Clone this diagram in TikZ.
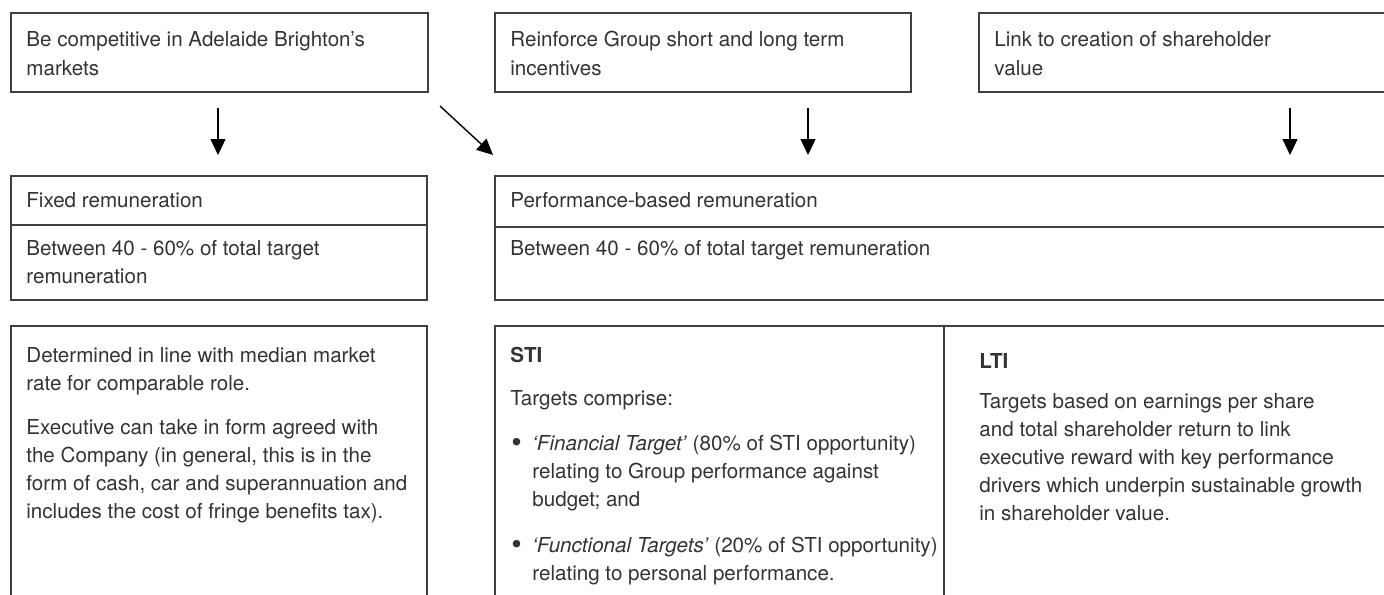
\documentclass[tikz,border=0pt]{standalone}
\usepackage{fontspec}
\setmainfont{TeX Gyre Heros}
\usetikzlibrary{arrows.meta}
\definecolor{ln}{HTML}{404040}
\definecolor{tx}{HTML}{333333}
\begin{document}
\begin{tikzpicture}[x=0.5pt,y=-0.5pt,
  box/.style={draw=ln, line width=0.65pt, inner sep=0pt, outer sep=0pt, anchor=north west},
  divider/.style={draw=ln, line width=0.65pt},
  txt/.style={anchor=base west, inner sep=0pt, text=tx, font=\fontsize{10.3}{14}\selectfont, align=left},
  hd/.style={txt, font=\fontsize{10.3}{14}\selectfont\bfseries},
  bul/.style={txt, font=\fontsize{15}{14}\selectfont},
  arr/.style={draw=black, line width=0.7pt, -{Triangle[length=8pt,width=7.5pt]}}]
\useasboundingbox (0,0) rectangle (1384,594);
\clip (0,0) rectangle (1384,594);
% top row
\node[box, minimum width=208.5pt, minimum height=39.5pt] (boxA) at (11,13) {};
\node[box, minimum width=208pt, minimum height=39.5pt] (boxB) at (495,13) {};
\node[box, minimum width=215pt, minimum height=39.5pt] (boxC) at (979,13) {};
% (multi-line nodes: base = baseline of last line)
\node[txt] (tA) at (26,75) {Be competitive in Adelaide Brighton’s\\markets};
\node[txt] (tB) at (510,75) {Reinforce Group short and long term\\incentives};
\node[txt] (tC) at (994,75) {Link to creation of shareholder\\value};
% middle row
\node[box, minimum width=208pt, minimum height=62pt] (fixed) at (11,176) {};
\node[box, minimum width=450pt, minimum height=62pt] (perf) at (495,176) {};
\coordinate (fdl) at (11,225); \coordinate (fdr) at (427,225);
\coordinate (pdl) at (495,227); \coordinate (pdr) at (1400,227);
\draw[divider] (fdl) -- (fdr);
\draw[divider] (pdl) -- (pdr);
\node[txt] (tF1) at (26,207) {Fixed remuneration};
\node[txt] (tF2) at (26,283) {Between 40 - 60\% of total target\\remuneration};
\node[txt] (tP1) at (510,207) {Performance-based remuneration};
\node[txt] (tP2) at (510,255) {Between 40 - 60\% of total target remuneration};
% bottom row
\node[box, minimum width=208pt, minimum height=150pt] (det) at (11,326) {};
\node[box, minimum width=450pt, minimum height=150pt] (stilti) at (495,326) {};
\coordinate (sdt) at (944,326); \coordinate (sdb) at (944,640);
\draw[divider] (sdt) -- (sdb);
\node[txt] (tD1) at (26,390) {Determined in line with median market\\rate for comparable role.};
\node[txt] (tD2) at (26,518) {Executive can take in form agreed with\\the Company (in general, this is in the\\form of cash, car and superannuation and\\includes the cost of fringe benefits tax).};
\node[hd] (sti) at (510,362) {STI};
\node[txt] (tS1) at (510,405) {Targets comprise:};
\node[bul] (b1) at (511,452) {•};
\node[txt] (tS2) at (532,506) {\textit{‘Financial Target’} (80\% of STI opportunity)\\relating to Group performance against\\budget; and};
\node[bul] (b2) at (511,554) {•};
\node[txt] (tS3) at (532,580) {\textit{‘Functional Targets’} (20\% of STI opportunity)\\relating to personal performance.};
\node[hd] (lti) at (979,368) {LTI};
\node[txt] (tL1) at (979,520) {Targets based on earnings per share\\and total shareholder return to link\\executive reward with key performance\\drivers which underpin sustainable growth\\in shareholder value.};
% arrows
\coordinate (a1s) at (218,108); \coordinate (a1e) at (218,155);
\coordinate (a2s) at (440,106); \coordinate (a2e) at (493,155);
\coordinate (a3s) at (808,108); \coordinate (a3e) at (808,155);
\coordinate (a4s) at (1290,108); \coordinate (a4e) at (1290,155);
\draw[arr] (a1s) -- (a1e);
\draw[arr] (a2s) -- (a2e);
\draw[arr] (a3s) -- (a3e);
\draw[arr] (a4s) -- (a4e);
\end{tikzpicture}
\end{document}
